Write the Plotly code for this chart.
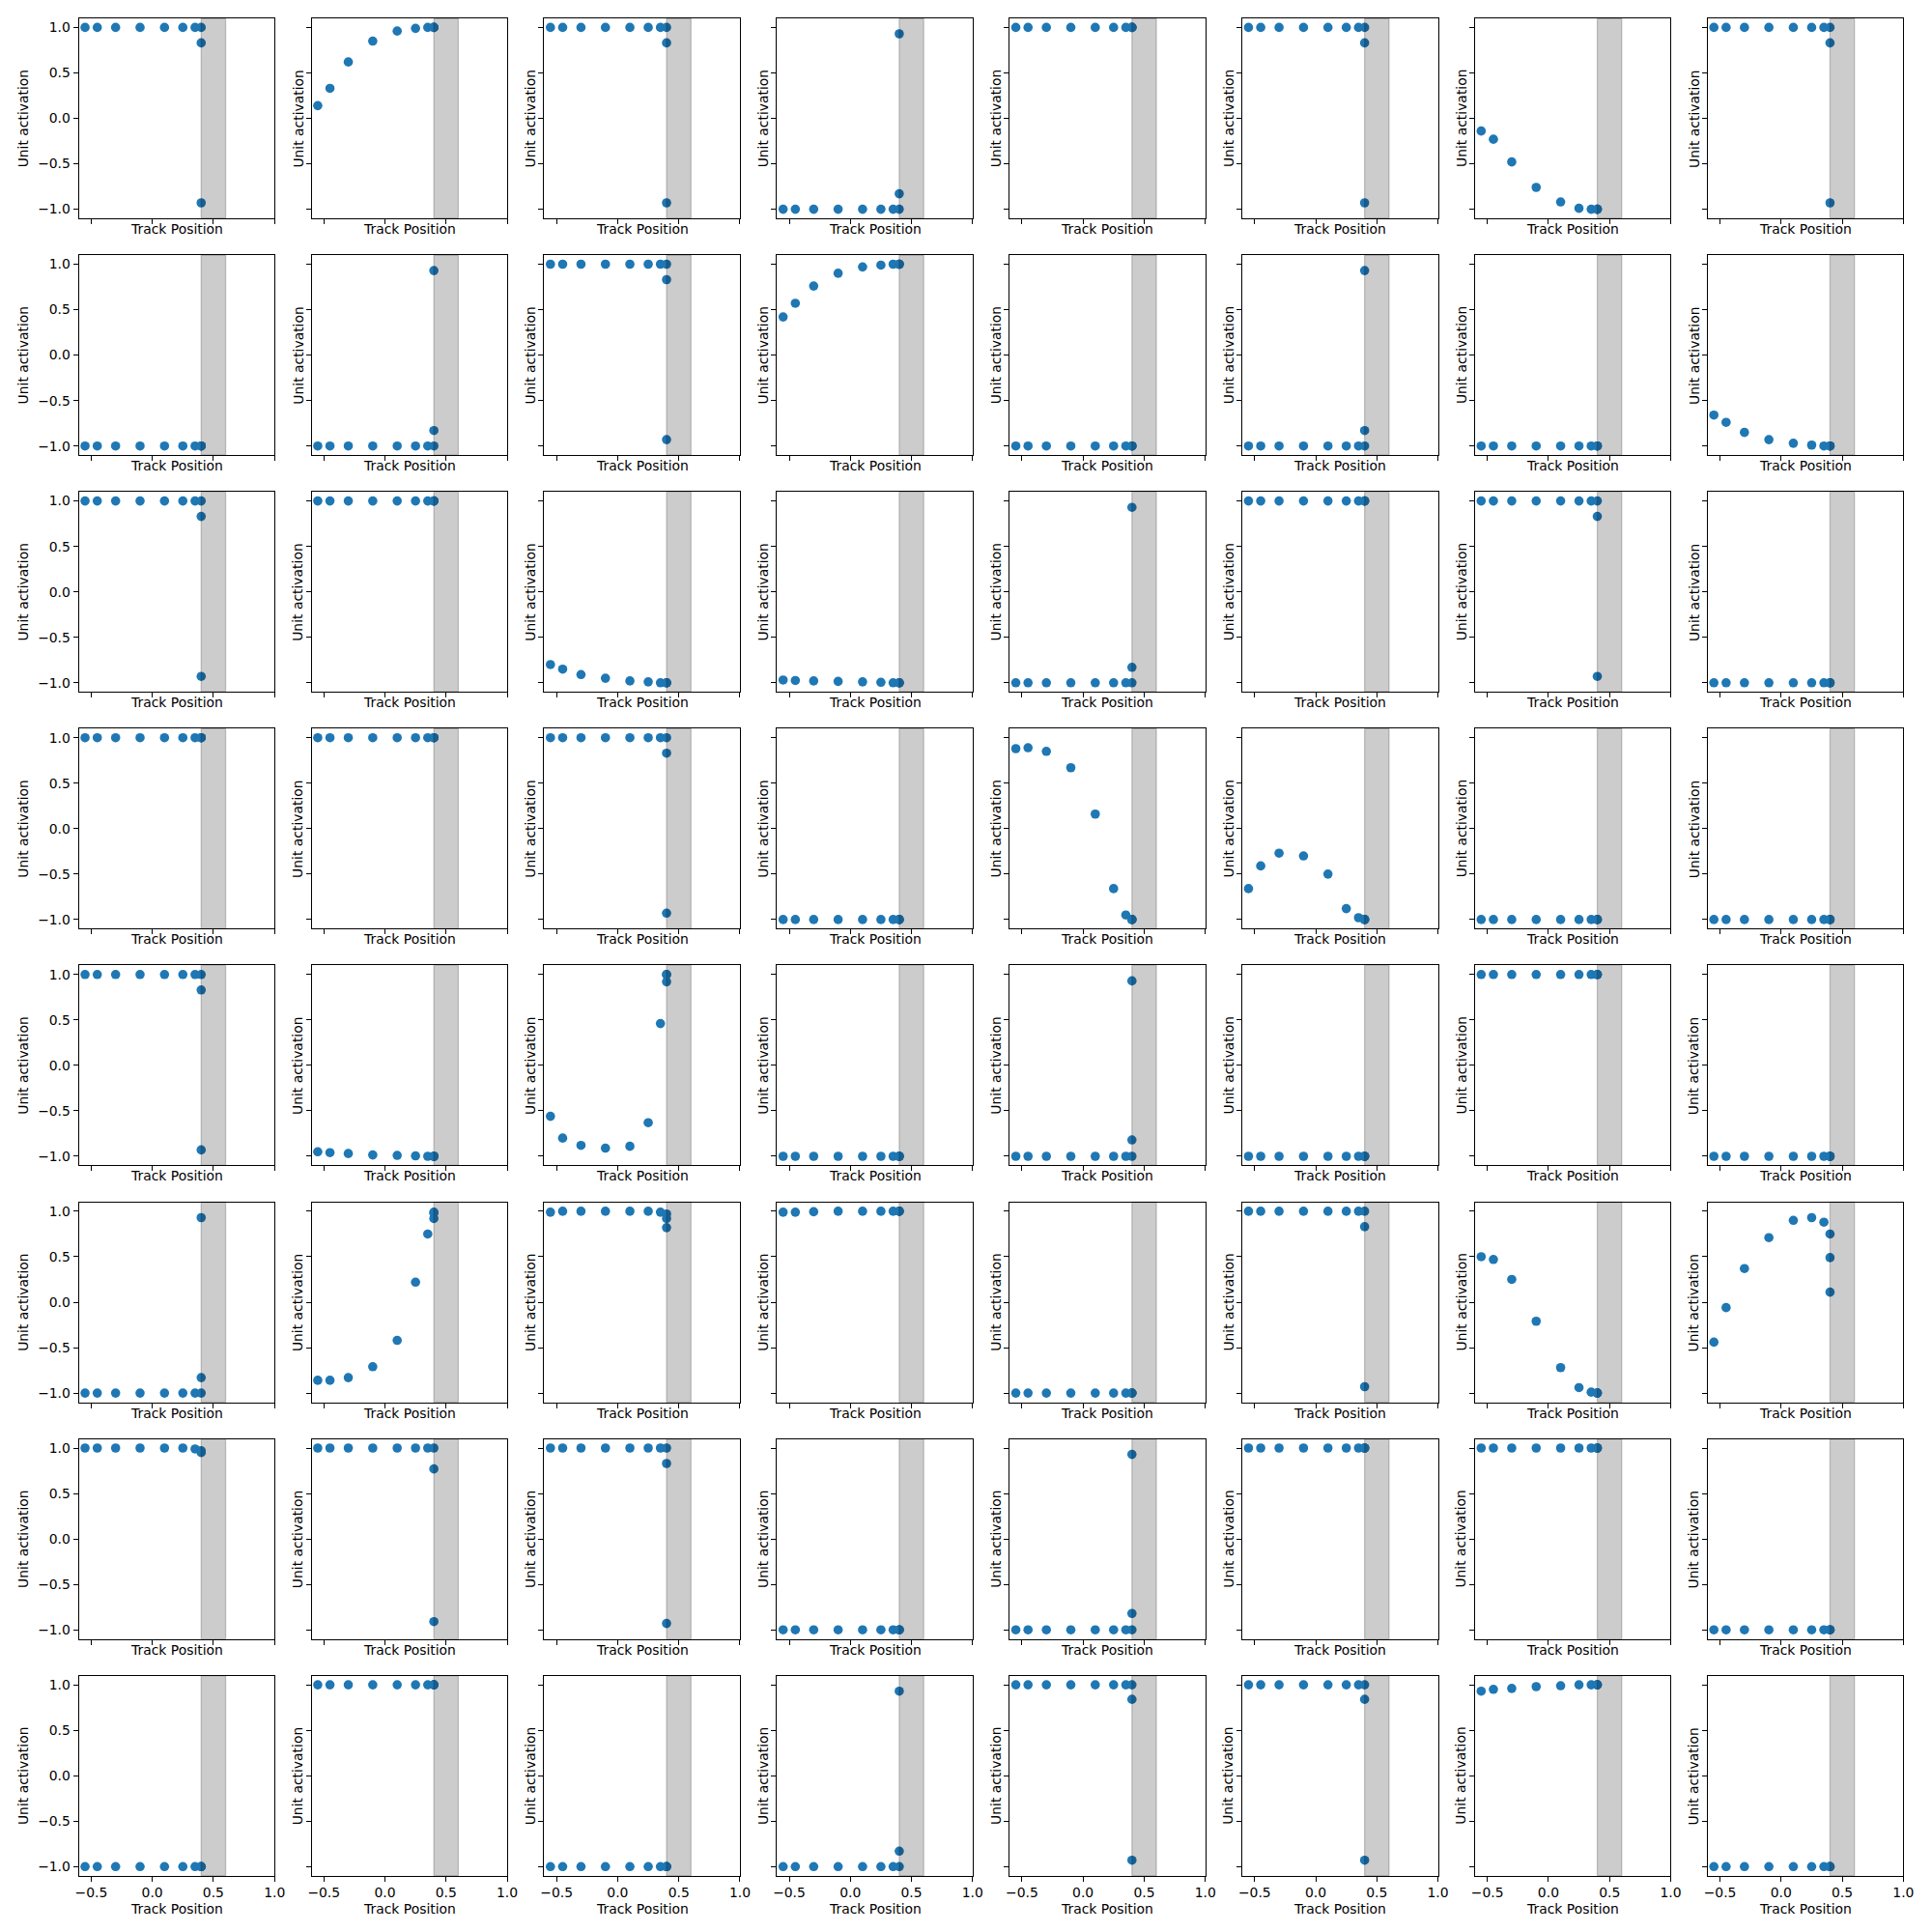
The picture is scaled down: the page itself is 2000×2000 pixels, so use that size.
import plotly.graph_objects as go

# ---------------- data ----------------
track_positions = [-0.55, -0.45, -0.3, -0.1, 0.1, 0.25, 0.35, 0.4, 0.4, 0.4]
shaded_region = [0.4, 0.6]
x_ticks = [-0.5, 0.0, 0.5, 1.0]
x_tick_labels = ["\u22120.5", "0.0", "0.5", "1.0"]
y_ticks = [-1.0, -0.5, 0.0, 0.5, 1.0]
y_tick_labels = ["\u22121.0", "\u22120.5", "0.0", "0.5", "1.0"]

P = [1, 1, 1, 1, 1, 1, 1, 1, 0.83, -0.93]      # saturates high, drops at end
N = [-1, -1, -1, -1, -1, -1, -1, -1, -0.83, 0.93]
HI = [1] * 10
LO = [-1] * 10

row_1 = [
    P,
    [0.14, 0.33, 0.62, 0.85, 0.96, 0.99, 1.0, 1.0, 1.0, 1.0],
    P,
    N,
    HI,
    P,
    [-0.14, -0.23, -0.48, -0.76, -0.92, -0.99, -1.0, -1.0, -1.0, -1.0],
    P,
]
row_2 = [
    LO,
    N,
    P,
    [0.42, 0.57, 0.76, 0.9, 0.97, 0.99, 1.0, 1.0, 1.0, 1.0],
    LO,
    N,
    LO,
    [-0.66, -0.74, -0.85, -0.93, -0.97, -0.99, -1.0, -1.0, -1.0, -1.0],
]
row_3 = [
    P,
    HI,
    [-0.8, -0.85, -0.91, -0.95, -0.98, -0.99, -1.0, -1.0, -1.0, -1.0],
    [-0.97, -0.975, -0.98, -0.985, -0.99, -0.995, -1.0, -1.0, -1.0, -1.0],
    N,
    HI,
    P,
    LO,
]
row_4 = [
    HI,
    HI,
    P,
    LO,
    [0.88, 0.89, 0.85, 0.67, 0.16, -0.66, -0.95, -1.0, -1.0, -1.0],
    [-0.66, -0.41, -0.27, -0.3, -0.5, -0.88, -0.98, -1.0, -1.0, -1.0],
    LO,
    LO,
]
row_5 = [
    P,
    [-0.95, -0.96, -0.97, -0.985, -0.99, -0.995, -1.0, -1.0, -1.0, -1.0],
    [-0.56, -0.8, -0.88, -0.91, -0.89, -0.63, 0.46, 1.0, 0.92, 1.0],
    LO,
    [-1, -1, -1, -1, -1, -1, -1, -1, -0.82, 0.93],
    LO,
    HI,
    LO,
]
row_6 = [
    N,
    [-0.86, -0.86, -0.83, -0.71, -0.42, 0.22, 0.75, 0.98, 0.92, 0.99],
    [0.99, 1.0, 1.0, 1.0, 1.0, 1.0, 0.99, 0.97, 0.92, 0.82],
    [0.99, 0.99, 0.995, 1.0, 1.0, 1.0, 1.0, 1.0, 1.0, 1.0],
    LO,
    P,
    [0.5, 0.47, 0.25, -0.21, -0.72, -0.94, -0.99, -1.0, -1.0, -1.0],
    [-0.44, -0.06, 0.37, 0.71, 0.9, 0.93, 0.88, 0.75, 0.49, 0.11],
]
row_7 = [
    [1, 1, 1, 1, 1, 1, 0.99, 0.97, 0.96, 0.95],
    [1, 1, 1, 1, 1, 1, 1, 1, 0.77, -0.91],
    P,
    LO,
    [-1, -1, -1, -1, -1, -1, -1, -1, -0.82, 0.93],
    HI,
    HI,
    LO,
]
row_8 = [
    LO,
    HI,
    LO,
    N,
    [1, 1, 1, 1, 1, 1, 1, 1, 0.84, -0.93],
    [1, 1, 1, 1, 1, 1, 1, 1, 0.84, -0.93],
    [0.93, 0.95, 0.96, 0.98, 0.99, 1.0, 1.0, 1.0, 1.0, 1.0],
    LO,
]
rows = [row_1, row_2, row_3, row_4, row_5, row_6, row_7, row_8]

# ---------------- layout geometry (pixels) ----------------
W = H = 2000
LEFT0, AX_W, COL_STEP = 78.3, 204.0, 242.7
TOP0, AX_H, ROW_STEP = 19.0, 207.0, 245.1
FONT = "DejaVu Sans"
FS = 13.9

fig = go.Figure()
shapes = []
annotations = []

for r, row in enumerate(rows):
    for c, acts in enumerate(row):
        idx = r * 8 + c + 1
        sfx = "" if idx == 1 else str(idx)
        x0 = LEFT0 + COL_STEP * c
        x1 = x0 + AX_W
        top = TOP0 + ROW_STEP * r
        bot = top + AX_H

        fig.add_trace(go.Scatter(
            x=track_positions, y=acts, mode="markers",
            marker=dict(color="#1f77b4", size=9.6, line=dict(width=0)),
            xaxis="x" + sfx, yaxis="y" + sfx, showlegend=False,
            hoverinfo="skip",
        ))

        common = dict(
            showline=True, mirror=True, linecolor="black", linewidth=1.1,
            ticks="outside", ticklen=5, tickwidth=1.1, tickcolor="black",
            showgrid=False, zeroline=False,
            tickfont=dict(family=FONT, size=FS, color="black"),
        )
        fig.update_layout(**{
            "xaxis" + sfx: dict(
                domain=[x0 / W, x1 / W], range=[-0.6, 1.0],
                anchor="y" + sfx, tickvals=x_ticks, ticktext=x_tick_labels,
                showticklabels=(r == 7), **common),
            "yaxis" + sfx: dict(
                domain=[1 - bot / H, 1 - top / H], range=[-1.1, 1.1],
                anchor="x" + sfx, tickvals=y_ticks, ticktext=y_tick_labels,
                showticklabels=(c == 0), **common),
        })

        shapes.append(dict(
            type="rect", xref="x" + sfx, yref="y" + sfx + " domain",
            x0=shaded_region[0], x1=shaded_region[1], y0=0, y1=1,
            fillcolor="rgba(0,0,0,0.2)",
            line=dict(color="rgba(0,0,0,0.2)", width=1.3),
            layer="above",
        ))

        xl_y = bot + (34.7 if r == 7 else 11.0)
        annotations.append(dict(
            text="Track Position", xref="paper", yref="paper",
            x=(x0 + x1) / 2 / W, y=1 - xl_y / H,
            xanchor="center", yanchor="middle", showarrow=False,
            font=dict(family=FONT, size=FS, color="black"),
        ))
        yl_x = 20.0 if c == 0 else x0 - 14.6
        annotations.append(dict(
            text="Unit activation", xref="paper", yref="paper",
            x=yl_x / W, y=1 - (top + bot) / 2 / H, textangle=-90,
            xanchor="center", yanchor="middle", showarrow=False,
            font=dict(family=FONT, size=FS, color="black"),
        ))

fig.update_layout(
    width=W, height=H, margin=dict(l=0, r=0, t=0, b=0),
    paper_bgcolor="white", plot_bgcolor="white",
    shapes=shapes, annotations=annotations, showlegend=False,
)

fig.write_html("out.html")
